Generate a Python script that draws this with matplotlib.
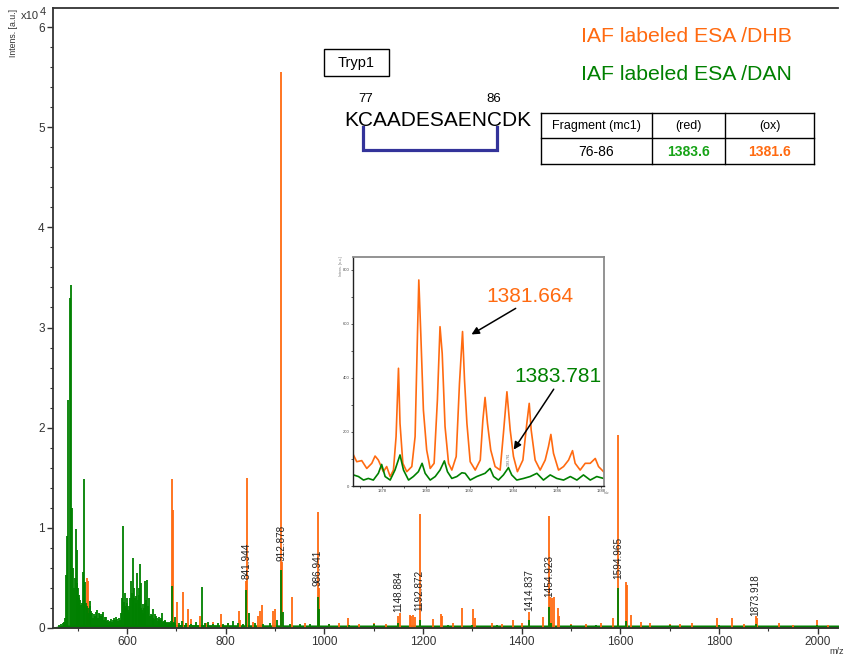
import matplotlib
matplotlib.use("Agg")
import matplotlib.pyplot as plt
from matplotlib.lines import Line2D
from matplotlib.patches import Rectangle
from matplotlib.ticker import MultipleLocator

plt.rcParams['font.family'] = ['Liberation Sans', 'DejaVu Sans']

ORANGE = '#ff6a10'
GREEN = '#008000'

# ---------------- main spectrum (intensity in units of 1e4) ----------------
dhb_mz = [472, 476, 518, 521, 691.7, 693.6, 702, 714, 723, 730, 748, 760, 775, 791,
          805, 826, 829, 841.9, 843.0, 856, 866, 870, 873, 896, 900, 912.9, 914.5,
          934, 960, 986.9, 988.5, 1010, 1030, 1048, 1070, 1100, 1125, 1148.9, 1153,
          1173, 1176, 1179, 1183, 1192.9, 1220, 1236, 1238, 1260, 1279, 1301, 1306,
          1340, 1360, 1381.7, 1400, 1414.8, 1443, 1454.9, 1457, 1461, 1465, 1473,
          1476, 1500, 1530, 1560, 1584, 1594.97, 1612, 1614, 1621, 1641, 1660, 1700,
          1720, 1745, 1795, 1827, 1850, 1873.9, 1876, 1922, 1950, 1998, 2020]
dhb_int = [0.03, 0.03, 0.50, 0.47, 1.49, 1.18, 0.26, 0.36, 0.19, 0.09, 0.12, 0.05, 0.06, 0.14,
           0.05, 0.17, 0.08, 0.47, 1.50, 0.06, 0.12, 0.17, 0.23, 0.17, 0.19, 5.55, 0.66,
           0.31, 0.05, 1.16, 0.40, 0.04, 0.05, 0.10, 0.04, 0.05, 0.04, 0.12, 0.15,
           0.13, 0.12, 0.13, 0.11, 1.14, 0.09, 0.14, 0.12, 0.05, 0.20, 0.19, 0.10,
           0.05, 0.04, 0.08, 0.05, 0.16, 0.11, 1.12, 0.31, 0.30, 0.31, 0.20,
           0.12, 0.04, 0.04, 0.05, 0.10, 1.93, 0.46, 0.43, 0.13, 0.06, 0.05, 0.04,
           0.04, 0.05, 0.10, 0.10, 0.04, 0.12, 0.10, 0.05, 0.03, 0.08, 0.03]

dan_mz = [462, 466, 470, 473, 475, 476.4, 479, 481, 484, 486.5, 488.6, 491, 492, 494, 496,
          498, 499, 500.7, 502, 503, 505, 507, 508, 510, 512, 513, 515.5, 517, 518,
          520, 522, 524, 525, 526, 528, 530, 532, 534, 536, 538, 540, 542, 544, 546,
          548, 550, 552, 554, 556, 558, 560, 562, 564, 566, 568, 570, 572, 574, 576,
          578, 580, 582, 584, 586, 588, 590, 592.5, 594, 595, 596, 598, 599, 600, 602,
          604, 605, 606, 608, 610, 611.5, 613, 615, 616, 618, 619, 621, 622, 624, 625,
          626, 628, 629, 630, 632, 633, 634, 636, 637, 638, 640, 642, 644, 646, 648,
          650, 652, 653, 654, 656, 658, 660, 662, 664, 665, 666, 668, 670, 672, 674,
          676, 677, 678, 680, 682, 684, 686, 688, 690, 692, 694, 696, 697, 698,
          705, 712, 720, 730, 740, 751, 758, 765, 775, 785, 795, 805, 814, 825,
          835, 841.9, 848, 860, 875, 890, 905, 912.9, 917, 930, 950, 970, 986.9, 990,
          1010, 1050, 1100, 1148.9, 1192.9, 1250, 1300, 1350, 1414.8, 1454.9, 1460,
          1500, 1550, 1594.97, 1612, 1700, 1800, 1873.9, 1998]
dan_int = [0.03, 0.04, 0.05, 0.06, 0.10, 0.53, 0.92, 2.28, 3.29, 3.42, 1.20, 0.60, 0.40, 0.50, 0.99,
           0.78, 0.45, 0.40, 0.30, 0.33, 0.28, 0.23, 0.25, 0.56, 0.30, 1.49, 0.46, 0.25, 0.22,
           0.20, 0.15, 0.22, 0.27, 0.18, 0.17, 0.15, 0.10, 0.14, 0.12, 0.16, 0.18, 0.10, 0.15, 0.14,
           0.12, 0.14, 0.16, 0.08, 0.11, 0.11, 0.07, 0.08, 0.06, 0.07, 0.09, 0.06, 0.08, 0.10, 0.08,
           0.11, 0.09, 0.07, 0.10, 0.08, 0.15, 0.30, 1.02, 0.26, 0.35, 0.22, 0.20, 0.30, 0.25, 0.18,
           0.16, 0.22, 0.30, 0.47, 0.35, 0.70, 0.28, 0.40, 0.30, 0.32, 0.25, 0.55, 0.28, 0.40, 0.33,
           0.64, 0.20, 0.45, 0.18, 0.15, 0.24, 0.20, 0.25, 0.47, 0.28, 0.48, 0.22, 0.30, 0.12, 0.14,
           0.13, 0.10, 0.19, 0.09, 0.14, 0.12, 0.10, 0.07, 0.09, 0.11, 0.08, 0.10, 0.15, 0.06, 0.07,
           0.08, 0.07, 0.06, 0.05, 0.06, 0.05, 0.06, 0.05, 0.07, 0.42, 0.05, 0.06, 0.11, 0.05,
           0.05, 0.07, 0.05, 0.04, 0.06, 0.41, 0.05, 0.06, 0.04, 0.05, 0.04, 0.05, 0.07, 0.05,
           0.04, 0.38, 0.15, 0.05, 0.04, 0.05, 0.08, 0.58, 0.16, 0.04, 0.04, 0.04, 0.31, 0.19,
           0.04, 0.03, 0.04, 0.05, 0.08, 0.03, 0.03, 0.03, 0.08, 0.21, 0.05,
           0.03, 0.03, 0.40, 0.07, 0.03, 0.03, 0.04, 0.03]

# baseline noise level of each trace
floor_mz = [450, 470, 700, 1000, 1500, 2050]
dhb_floor = [0.01, 0.02, 0.025, 0.025, 0.02, 0.02]
dan_floor = [0.01, 0.03, 0.035, 0.03, 0.03, 0.03]

peak_labels = ['841.944', '912.878', '986.941', '1148.884', '1192.872',
               '1414.837', '1454.923', '1594.965', '1873.918']
label_mz = [841.944, 912.878, 986.941, 1148.884, 1192.872,
            1414.837, 1454.923, 1594.965, 1873.918]
label_int = [0.48, 0.66, 0.41, 0.15, 0.16, 0.16, 0.30, 0.48, 0.11]

# ---------------- zoomed isotope cluster (counts) ----------------
zoom_dhb_mz = [1376.69, 1376.84, 1377.07, 1377.30, 1377.53, 1377.68, 1377.83, 1378.06, 1378.21,
               1378.37, 1378.52, 1378.64, 1378.75, 1378.82, 1378.95, 1379.13, 1379.36, 1379.51,
               1379.62, 1379.68, 1379.77, 1379.89, 1380.04, 1380.20, 1380.38, 1380.53, 1380.65,
               1380.75, 1380.88, 1381.04, 1381.19, 1381.39, 1381.54, 1381.68, 1381.77, 1381.88,
               1382.03, 1382.26, 1382.49, 1382.61, 1382.71, 1382.82, 1382.97, 1383.17, 1383.40,
               1383.55, 1383.71, 1383.86, 1384.01, 1384.19, 1384.44, 1384.62, 1384.73, 1384.82,
               1385.00, 1385.23, 1385.46, 1385.61, 1385.72, 1385.84, 1386.07, 1386.30, 1386.53,
               1386.71, 1386.83, 1387.06, 1387.29, 1387.52, 1387.75, 1387.90, 1388.13]
zoom_dhb_int = [115, 90, 94, 65, 84, 111, 96, 53, 72,
                35, 59, 183, 436, 232, 84, 53, 72, 183,
                565, 763, 565, 281, 133, 65, 84, 318, 590,
                491, 220, 84, 59, 109, 380, 572, 393, 232,
                90, 59, 96, 244, 328, 232, 133, 72, 59,
                195, 349, 207, 109, 53, 96, 232, 306, 207,
                96, 59, 96, 146, 191, 121, 59, 72, 96,
                131, 84, 59, 84, 84, 102, 72, 53]

zoom_dan_mz = [1376.69, 1376.92, 1377.15, 1377.37, 1377.60, 1377.83, 1377.98, 1378.14, 1378.37,
               1378.59, 1378.82, 1378.98, 1379.21, 1379.43, 1379.66, 1379.83, 1379.97, 1380.20,
               1380.43, 1380.65, 1380.85, 1380.99, 1381.19, 1381.42, 1381.65, 1381.80, 1382.03,
               1382.33, 1382.71, 1382.94, 1383.10, 1383.32, 1383.55, 1383.78, 1383.93, 1384.16,
               1384.47, 1384.77, 1385.08, 1385.38, 1385.69, 1385.99, 1386.30, 1386.61, 1386.91,
               1387.21, 1387.52, 1387.82, 1388.13]
zoom_dan_int = [41, 35, 22, 28, 22, 47, 80, 35, 22,
                59, 115, 59, 22, 35, 53, 84, 47, 22,
                35, 59, 93, 53, 28, 35, 49, 47, 22,
                35, 47, 65, 35, 22, 41, 68, 41, 22,
                28, 35, 47, 22, 41, 28, 22, 35, 22,
                41, 22, 35, 28]

W, H = 844, 656
fig = plt.figure(figsize=(W / 100, H / 100), dpi=100)


def fx(px):
    return px / W


def fy(py):
    return 1 - py / H


ax = fig.add_axes([fx(53), fy(628), fx(838) - fx(53), fy(8) - fy(628)])
ax.fill_between(floor_mz, 0, dhb_floor, color=ORANGE, lw=0)
ax.vlines(dhb_mz, 0, dhb_int, color=ORANGE, lw=1.3)
ax.fill_between(floor_mz, 0, dan_floor, color=GREEN, lw=0)
ax.vlines(dan_mz, 0, dan_int, color=GREEN, lw=1.3)

for txt, m, h in zip(peak_labels, label_mz, label_int):
    ax.text(m, h + 0.01, txt, rotation=90, ha='center', va='bottom',
            fontsize=7.2, color='#222222')

ax.set_xlim(450, 2041)
ax.set_ylim(0, 6.19)
ax.xaxis.set_major_locator(MultipleLocator(200))
ax.xaxis.set_minor_locator(MultipleLocator(100))
ax.yaxis.set_major_locator(MultipleLocator(1))
ax.yaxis.set_minor_locator(MultipleLocator(0.2))
ax.tick_params(which='major', direction='out', length=4, width=1, labelsize=8.5,
               colors='#333333', pad=2)
ax.tick_params(which='minor', direction='out', length=2.5, width=0.8, colors='#333333')
ax.tick_params(axis='x', which='both', labelcolor='#333333')
for side in ['left', 'bottom', 'top']:
    ax.spines[side].set_color('#333333')
    ax.spines[side].set_linewidth(1.3)
ax.spines['right'].set_visible(False)

fig.text(fx(13), fy(33), 'Intens. [a.u.]', rotation=90, ha='center', va='center',
         fontsize=6.3, color='#333333')
fig.text(fx(21), fy(16), 'x10', ha='left', va='center', fontsize=8, color='#333333')
fig.text(fx(40), fy(12), '4', ha='left', va='center', fontsize=8, color='#333333')
fig.text(fx(829), fy(651), 'm/z', ha='left', va='center', fontsize=6.5, color='#333333')

# ---------------- inset ----------------
ins = fig.add_axes([fx(353), fy(486), fx(604) - fx(353), fy(257) - fy(486)])
ins.set_facecolor('white')
ins.plot(zoom_dhb_mz, zoom_dhb_int, color=ORANGE, lw=1.2)
ins.plot(zoom_dan_mz, zoom_dan_int, color=GREEN, lw=1.2)
ins.set_xlim(1376.67, 1388.15)
ins.set_ylim(0, 848)
ins.xaxis.set_major_locator(MultipleLocator(2))
ins.xaxis.set_minor_locator(MultipleLocator(1))
ins.yaxis.set_major_locator(MultipleLocator(200))
ins.yaxis.set_minor_locator(MultipleLocator(100))
ins.tick_params(which='both', direction='out', length=1.5, width=0.6, labelsize=3,
                colors='#444444', pad=1)
for side in ['left', 'bottom']:
    ins.spines[side].set_color('#222222')
    ins.spines[side].set_linewidth(1.0)
for side in ['top', 'right']:
    ins.spines[side].set_color('#8a8a8a')
    ins.spines[side].set_linewidth(1.3)
fig.text(fx(341), fy(266), 'Intens. [a.u.]', rotation=90, ha='center', va='center',
         fontsize=2.5, color='#777777')
fig.text(fx(607), fy(493), 'm/z', ha='center', va='center', fontsize=2.5, color='#777777')
ins.text(1383.78, 75, '1383.781', rotation=90, ha='center', va='bottom',
         fontsize=2.3, color='#666666')

ins.text(1384.77, 700, '1381.664', ha='center', va='center', fontsize=15, color=ORANGE)
ins.annotate('', xy=(1381.98, 556), xytext=(1384.22, 663),
             arrowprops=dict(arrowstyle='-|>', color='black', lw=1.1, mutation_scale=11))
ins.text(1386.05, 404, '1383.781', ha='center', va='center', fontsize=15, color=GREEN)
ins.annotate('', xy=(1383.95, 126), xytext=(1385.92, 367),
             arrowprops=dict(arrowstyle='-|>', color='black', lw=1.1, mutation_scale=11))

# ---------------- titles ----------------
fig.text(fx(686), fy(37), 'IAF labeled ESA /DHB', ha='center', va='center',
         fontsize=15.3, color=ORANGE)
fig.text(fx(686), fy(75), 'IAF labeled ESA /DAN', ha='center', va='center',
         fontsize=15.3, color=GREEN)

# ---------------- peptide sketch ----------------
fig.add_artist(Rectangle((fx(324), fy(76)), fx(389) - fx(324), fy(49) - fy(76),
                         transform=fig.transFigure, fill=False, ec='black', lw=1.0))
fig.text(fx(356.5), fy(62.5), 'Tryp1', ha='center', va='center', fontsize=10.5)
fig.text(fx(366), fy(99), '77', ha='center', va='center', fontsize=9.5)
fig.text(fx(494), fy(99), '86', ha='center', va='center', fontsize=9.5)
fig.text(fx(438), fy(120), 'KCAADESAENCDK', ha='center', va='center', fontsize=15)
fig.add_artist(Line2D([fx(363), fx(363), fx(497), fx(497)],
                      [fy(127), fy(150), fy(150), fy(127)],
                      transform=fig.transFigure, color='#33339a', lw=2.3,
                      solid_joinstyle='miter'))

# ---------------- fragment table ----------------
col_edges = [541, 652, 725, 814]
row_edges = [113, 138, 164]
for xe in col_edges:
    fig.add_artist(Line2D([fx(xe), fx(xe)], [fy(row_edges[0]), fy(row_edges[-1])],
                          transform=fig.transFigure, color='black', lw=1.0))
for ye in row_edges:
    fig.add_artist(Line2D([fx(col_edges[0]), fx(col_edges[-1])], [fy(ye), fy(ye)],
                          transform=fig.transFigure, color='black', lw=1.0))
header = ['Fragment (mc1)', '(red)', '(ox)']
row = ['76-86', '1383.6', '1381.6']
row_colors = ['black', '#16a316', ORANGE]
row_weights = ['normal', 'bold', 'bold']
for i in range(3):
    cx = (col_edges[i] + col_edges[i + 1]) / 2
    fig.text(fx(cx), fy(126), header[i], ha='center', va='center', fontsize=9)
    fig.text(fx(cx), fy(151.5), row[i], ha='center', va='center', fontsize=10,
             color=row_colors[i], fontweight=row_weights[i])

fig.savefig('out.png', dpi=100)
